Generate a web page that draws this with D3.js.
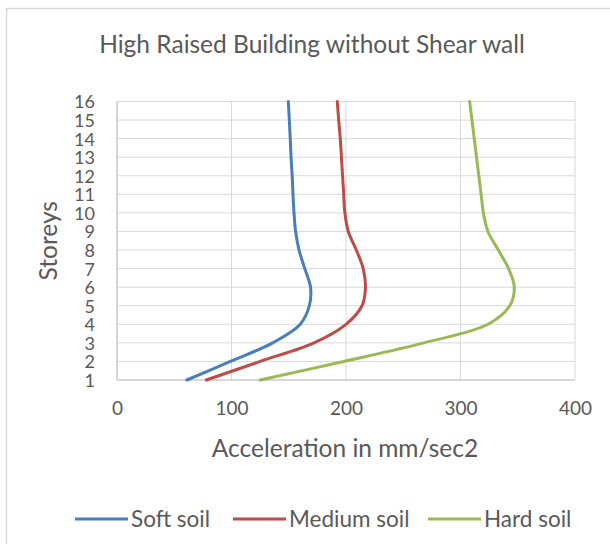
<!DOCTYPE html>
<html>
<head>
<meta charset="utf-8">
<script src="https://cdn.jsdelivr.net/npm/d3@7"></script>
<style>
  html, body { margin: 0; padding: 0; background: #fff; }
  svg { display: block; }
  text { font-family: Lato, "Open Sans", sans-serif; fill: #595959; }
</style>
</head>
<body>
<svg id="chart" width="610" height="544"></svg>
<script>
// Storey numbers (y axis) and acceleration values (mm/sec2) per soil type
const storeys = [1, 2, 3, 4, 5, 6, 7, 8, 9, 10, 11, 12, 13, 14, 15, 16];
const softSoil   = [61, 99, 136, 160, 168, 169, 164, 159, 156, 154.6, 153.7, 153, 152, 151.3, 150.5, 149.6];
const mediumSoil = [78, 125, 172, 200, 214, 217, 215, 209, 202, 199, 198, 197, 196, 195, 193.6, 192.4];
const hardSoil   = [125, 198, 268, 324, 343, 347, 342, 333, 324, 320, 318, 316, 314, 312, 310, 308];
const xTicks = [0, 100, 200, 300, 400];
const seriesNames = ["Soft soil", "Medium soil", "Hard soil"];
const seriesColors = ["#4a7ebb", "#be4b48", "#98b954"];

const series = [softSoil, mediumSoil, hardSoil].map((vals, i) => ({
  name: seriesNames[i],
  color: seriesColors[i],
  points: vals.map((v, j) => ({ x: v, y: storeys[j] }))
}));

const svg = d3.select("#chart");

// outer chart frame
svg.append("rect")
  .attr("x", 6.5).attr("y", 8.5)
  .attr("width", 640).attr("height", 600)
  .attr("fill", "none").attr("stroke", "#d9d9d9").attr("stroke-width", 1.5);

const plot = { left: 117, right: 575, top: 101.5, bottom: 380 };

const x = d3.scaleLinear().domain([0, 400]).range([plot.left, plot.right]);
const y = d3.scaleLinear().domain([1, 16]).range([plot.bottom, plot.top]);

// gridlines
const grid = svg.append("g");
grid.selectAll("line.h").data(storeys).join("line")
  .attr("class", "h")
  .attr("x1", plot.left).attr("x2", plot.right)
  .attr("y1", d => y(d)).attr("y2", d => y(d))
  .attr("stroke", "#d9d9d9").attr("stroke-width", 1);
grid.selectAll("line.v").data(xTicks).join("line")
  .attr("class", "v")
  .attr("x1", d => x(d)).attr("x2", d => x(d))
  .attr("y1", plot.top).attr("y2", plot.bottom)
  .attr("stroke", "#d9d9d9").attr("stroke-width", 1);

// axes (labels only, lines handled by the grid)
const xAxis = svg.append("g")
  .attr("transform", `translate(0,${plot.bottom})`)
  .call(d3.axisBottom(x).tickValues(xTicks).tickSize(0).tickPadding(22));
const yAxis = svg.append("g")
  .attr("transform", `translate(${plot.left},0)`)
  .call(d3.axisLeft(y).tickValues(storeys).tickSize(0).tickPadding(22));
[xAxis, yAxis].forEach(a => {
  a.select(".domain").remove();
  a.selectAll("text").attr("font-family", "Lato, sans-serif").attr("fill", "#595959");
});
xAxis.selectAll("text").attr("font-size", 19);
yAxis.selectAll("text").attr("font-size", 18).attr("dy", "0.36em");

// axis frame lines
svg.append("line")
  .attr("x1", plot.left).attr("x2", plot.left)
  .attr("y1", plot.top).attr("y2", plot.bottom)
  .attr("stroke", "#d0d0d0").attr("stroke-width", 1.5);
svg.append("line")
  .attr("x1", plot.left).attr("x2", plot.right)
  .attr("y1", plot.bottom).attr("y2", plot.bottom)
  .attr("stroke", "#d0d0d0").attr("stroke-width", 1.5);

// series curves
const line = d3.line()
  .x(d => x(d.x))
  .y(d => y(d.y))
  .curve(d3.curveCatmullRom.alpha(0.5));

svg.append("g").selectAll("path").data(series).join("path")
  .attr("d", d => line(d.points))
  .attr("fill", "none")
  .attr("stroke", d => d.color)
  .attr("stroke-width", 3)
  .attr("stroke-linecap", "round");

// titles
svg.append("text")
  .attr("x", 312).attr("y", 53)
  .attr("text-anchor", "middle")
  .attr("font-size", 24.5)
  .text("High Raised Building without Shear wall");

svg.append("text")
  .attr("x", 345).attr("y", 457)
  .attr("text-anchor", "middle")
  .attr("font-size", 24.5)
  .text("Acceleration in mm/sec2");

svg.append("text")
  .attr("transform", `translate(57,${(plot.top + plot.bottom) / 2}) rotate(-90)`)
  .attr("text-anchor", "middle")
  .attr("font-size", 24.5)
  .text("Storeys");

// legend
const legendX = [75, 233, 428];
const legend = svg.append("g").selectAll("g").data(series).join("g")
  .attr("transform", (d, i) => `translate(${legendX[i]},519)`);
legend.append("line")
  .attr("x1", 0).attr("x2", 53)
  .attr("stroke", d => d.color).attr("stroke-width", 3);
legend.append("text")
  .attr("x", 56).attr("dy", "0.35em")
  .attr("font-size", 22.5)
  .text(d => d.name);
</script>
</body>
</html>
